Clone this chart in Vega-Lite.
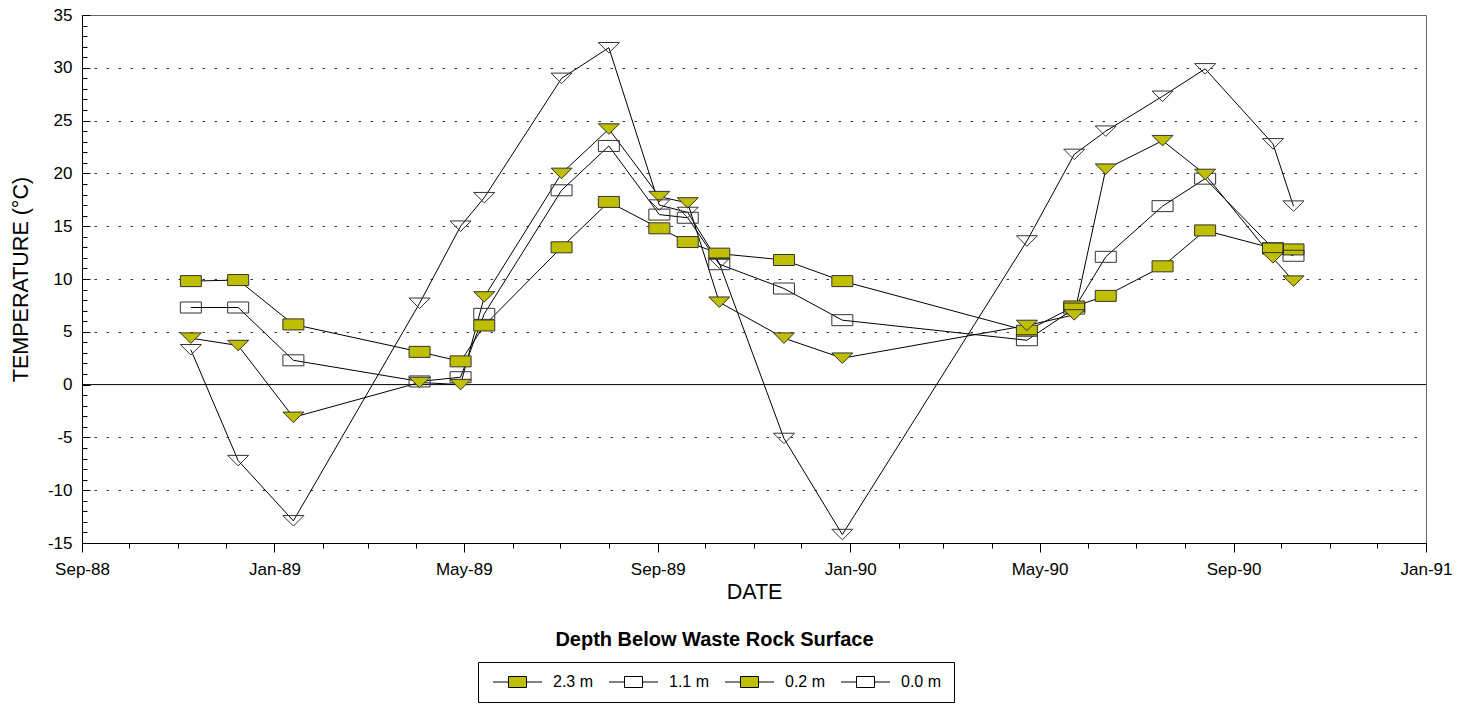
{
  "$schema": "https://vega.github.io/schema/vega-lite/v6.json",
  "width": 1344,
  "height": 528,
  "autosize": {"type": "none"},
  "padding": {"left": 82, "top": 15, "right": 40, "bottom": 163},
  "background": "white",
  "config": {
    "font": "Liberation Sans",
    "view": {"stroke": "#666", "strokeWidth": 1},
    "axis": {"labelColor": "black", "titleColor": "black", "domainColor": "black", "tickColor": "black", "labelFont": "Liberation Sans", "titleFont": "Liberation Sans", "titleFontWeight": "normal", "domainWidth": 1, "tickWidth": 1}
  },
  "datasets": {
    "temps": [
      {"date": "1988-11-09", "depth": "2.3 m", "temp": 9.8},
      {"date": "1988-12-09", "depth": "2.3 m", "temp": 9.9},
      {"date": "1989-01-13", "depth": "2.3 m", "temp": 5.7},
      {"date": "1989-04-03", "depth": "2.3 m", "temp": 3.1},
      {"date": "1989-04-29", "depth": "2.3 m", "temp": 2.2},
      {"date": "1989-05-14", "depth": "2.3 m", "temp": 5.6},
      {"date": "1989-07-02", "depth": "2.3 m", "temp": 13.0},
      {"date": "1989-08-01", "depth": "2.3 m", "temp": 17.3},
      {"date": "1989-09-02", "depth": "2.3 m", "temp": 14.8},
      {"date": "1989-09-20", "depth": "2.3 m", "temp": 13.5},
      {"date": "1989-10-10", "depth": "2.3 m", "temp": 12.4},
      {"date": "1989-11-20", "depth": "2.3 m", "temp": 11.8},
      {"date": "1989-12-27", "depth": "2.3 m", "temp": 9.8},
      {"date": "1990-04-23", "depth": "2.3 m", "temp": 5.1},
      {"date": "1990-05-23", "depth": "2.3 m", "temp": 7.4},
      {"date": "1990-06-12", "depth": "2.3 m", "temp": 8.4},
      {"date": "1990-07-18", "depth": "2.3 m", "temp": 11.2},
      {"date": "1990-08-14", "depth": "2.3 m", "temp": 14.6},
      {"date": "1990-09-26", "depth": "2.3 m", "temp": 12.9},
      {"date": "1990-10-09", "depth": "2.3 m", "temp": 12.8},
      {"date": "1988-11-09", "depth": "1.1 m", "temp": 7.3},
      {"date": "1988-12-09", "depth": "1.1 m", "temp": 7.3},
      {"date": "1989-01-13", "depth": "1.1 m", "temp": 2.3},
      {"date": "1989-04-03", "depth": "1.1 m", "temp": 0.3},
      {"date": "1989-04-29", "depth": "1.1 m", "temp": 0.7},
      {"date": "1989-05-14", "depth": "1.1 m", "temp": 6.7},
      {"date": "1989-07-02", "depth": "1.1 m", "temp": 18.4},
      {"date": "1989-08-01", "depth": "1.1 m", "temp": 22.6},
      {"date": "1989-09-02", "depth": "1.1 m", "temp": 16.1},
      {"date": "1989-09-20", "depth": "1.1 m", "temp": 15.8},
      {"date": "1989-10-10", "depth": "1.1 m", "temp": 11.4},
      {"date": "1989-11-20", "depth": "1.1 m", "temp": 9.1},
      {"date": "1989-12-27", "depth": "1.1 m", "temp": 6.1},
      {"date": "1990-04-23", "depth": "1.1 m", "temp": 4.2},
      {"date": "1990-05-23", "depth": "1.1 m", "temp": 7.2},
      {"date": "1990-06-12", "depth": "1.1 m", "temp": 12.1},
      {"date": "1990-07-18", "depth": "1.1 m", "temp": 16.9},
      {"date": "1990-08-14", "depth": "1.1 m", "temp": 19.5},
      {"date": "1990-09-26", "depth": "1.1 m", "temp": 12.9},
      {"date": "1990-10-09", "depth": "1.1 m", "temp": 12.2},
      {"date": "1988-11-09", "depth": "0.2 m", "temp": 4.4},
      {"date": "1988-12-09", "depth": "0.2 m", "temp": 3.7},
      {"date": "1989-01-13", "depth": "0.2 m", "temp": -3.1},
      {"date": "1989-04-03", "depth": "0.2 m", "temp": 0.2},
      {"date": "1989-04-29", "depth": "0.2 m", "temp": 0.0},
      {"date": "1989-05-14", "depth": "0.2 m", "temp": 8.3},
      {"date": "1989-07-02", "depth": "0.2 m", "temp": 20.0},
      {"date": "1989-08-01", "depth": "0.2 m", "temp": 24.2},
      {"date": "1989-09-02", "depth": "0.2 m", "temp": 17.8},
      {"date": "1989-09-20", "depth": "0.2 m", "temp": 17.2},
      {"date": "1989-10-10", "depth": "0.2 m", "temp": 7.8},
      {"date": "1989-11-20", "depth": "0.2 m", "temp": 4.4},
      {"date": "1989-12-27", "depth": "0.2 m", "temp": 2.5},
      {"date": "1990-04-23", "depth": "0.2 m", "temp": 5.6},
      {"date": "1990-05-23", "depth": "0.2 m", "temp": 6.6},
      {"date": "1990-06-12", "depth": "0.2 m", "temp": 20.4},
      {"date": "1990-07-18", "depth": "0.2 m", "temp": 23.1},
      {"date": "1990-08-14", "depth": "0.2 m", "temp": 19.9},
      {"date": "1990-09-26", "depth": "0.2 m", "temp": 12.0},
      {"date": "1990-10-09", "depth": "0.2 m", "temp": 9.8},
      {"date": "1988-11-09", "depth": "0.0 m", "temp": 3.3},
      {"date": "1988-12-09", "depth": "0.0 m", "temp": -7.2},
      {"date": "1989-01-13", "depth": "0.0 m", "temp": -12.9},
      {"date": "1989-04-03", "depth": "0.0 m", "temp": 7.7},
      {"date": "1989-04-29", "depth": "0.0 m", "temp": 15.0},
      {"date": "1989-05-14", "depth": "0.0 m", "temp": 17.7},
      {"date": "1989-07-02", "depth": "0.0 m", "temp": 29.0},
      {"date": "1989-08-01", "depth": "0.0 m", "temp": 31.9},
      {"date": "1989-09-02", "depth": "0.0 m", "temp": 17.0},
      {"date": "1989-09-20", "depth": "0.0 m", "temp": 16.3},
      {"date": "1989-10-10", "depth": "0.0 m", "temp": 11.5},
      {"date": "1989-11-20", "depth": "0.0 m", "temp": -5.1},
      {"date": "1989-12-27", "depth": "0.0 m", "temp": -14.2},
      {"date": "1990-04-23", "depth": "0.0 m", "temp": 13.6},
      {"date": "1990-05-23", "depth": "0.0 m", "temp": 21.8},
      {"date": "1990-06-12", "depth": "0.0 m", "temp": 24.0},
      {"date": "1990-07-18", "depth": "0.0 m", "temp": 27.3},
      {"date": "1990-08-14", "depth": "0.0 m", "temp": 29.9},
      {"date": "1990-09-26", "depth": "0.0 m", "temp": 22.8},
      {"date": "1990-10-09", "depth": "0.0 m", "temp": 16.9}
    ],
    "zero": [{"t": 0}]
  },
  "layer": [
    {
      "data": {"name": "zero"},
      "mark": {"type": "rule", "color": "black", "strokeWidth": 1},
      "encoding": {
        "y": {"field": "t", "type": "quantitative", "scale": {"domain": [-15, 35], "nice": false, "zero": false}}
      }
    },
    {
      "data": {"name": "temps"},
      "mark": {"type": "line", "color": "black", "strokeWidth": 1},
      "encoding": {
        "x": {
          "field": "date", "type": "temporal",
          "scale": {"type": "utc", "nice": false, "domain": [{"year": 1988, "month": 9, "date": 1, "utc": true}, {"year": 1991, "month": 1, "date": 1, "utc": true}]},
          "axis": {
            "orient": "bottom",
            "tickCount": 200,
            "values": [
              {"year": 1988, "month": 9, "date": 1, "utc": true},
              {"year": 1988, "month": 10, "date": 1, "utc": true},
              {"year": 1988, "month": 11, "date": 1, "utc": true},
              {"year": 1988, "month": 12, "date": 1, "utc": true},
              {"year": 1989, "month": 1, "date": 1, "utc": true},
              {"year": 1989, "month": 2, "date": 1, "utc": true},
              {"year": 1989, "month": 3, "date": 1, "utc": true},
              {"year": 1989, "month": 4, "date": 1, "utc": true},
              {"year": 1989, "month": 5, "date": 1, "utc": true},
              {"year": 1989, "month": 6, "date": 1, "utc": true},
              {"year": 1989, "month": 7, "date": 1, "utc": true},
              {"year": 1989, "month": 8, "date": 1, "utc": true},
              {"year": 1989, "month": 9, "date": 1, "utc": true},
              {"year": 1989, "month": 10, "date": 1, "utc": true},
              {"year": 1989, "month": 11, "date": 1, "utc": true},
              {"year": 1989, "month": 12, "date": 1, "utc": true},
              {"year": 1990, "month": 1, "date": 1, "utc": true},
              {"year": 1990, "month": 2, "date": 1, "utc": true},
              {"year": 1990, "month": 3, "date": 1, "utc": true},
              {"year": 1990, "month": 4, "date": 1, "utc": true},
              {"year": 1990, "month": 5, "date": 1, "utc": true},
              {"year": 1990, "month": 6, "date": 1, "utc": true},
              {"year": 1990, "month": 7, "date": 1, "utc": true},
              {"year": 1990, "month": 8, "date": 1, "utc": true},
              {"year": 1990, "month": 9, "date": 1, "utc": true},
              {"year": 1990, "month": 10, "date": 1, "utc": true},
              {"year": 1990, "month": 11, "date": 1, "utc": true},
              {"year": 1990, "month": 12, "date": 1, "utc": true},
              {"year": 1991, "month": 1, "date": 1, "utc": true}
            ],
            "labelExpr": "utcmonth(datum.value) % 4 == 0 ? utcFormat(datum.value, '%b-%y') : ''",
            "tickSize": {"condition": {"test": "utcmonth(datum.value) % 4 == 0", "value": 9}, "value": 5},
            "labelPadding": 9,
            "labelFontSize": 17,
            "labelOverlap": false,
            "labelFlush": false,
            "grid": false,
            "title": "DATE",
            "titleFontSize": 21.5,
            "titlePadding": 4
          }
        },
        "y": {
          "field": "temp", "type": "quantitative",
          "scale": {"domain": [-15, 35], "nice": false, "zero": false},
          "axis": {
            "tickCount": 200,
            "values": [-15,-14,-13,-12,-11,-10,-9,-8,-7,-6,-5,-4,-3,-2,-1,0,1,2,3,4,5,6,7,8,9,10,11,12,13,14,15,16,17,18,19,20,21,22,23,24,25,26,27,28,29,30,31,32,33,34,35],
            "labelExpr": "datum.value % 5 == 0 ? toString(datum.value) : ''",
            "tickSize": {"condition": {"test": "datum.value % 5 == 0", "value": -8}, "value": -5},
            "labelPadding": 18,
            "labelFontSize": 17,
            "labelOverlap": false,
            "labelFlush": false,
            "grid": true,
            "gridDash": [2.5, 9.5],
            "gridColor": "#333",
            "gridWidth": 1,
            "gridOpacity": {"condition": {"test": "datum.value % 5 == 0 && datum.value > -15 && datum.value < 35 && datum.value != 0", "value": 1}, "value": 0},
            "title": "TEMPERATURE (°C)",
            "titleFontSize": 21.5,
            "titlePadding": 15
          }
        },
        "detail": {"field": "depth"}
      }
    },
    {
      "data": {"name": "temps"},
      "mark": {"type": "point", "filled": true, "size": 441, "stroke": "#333", "strokeWidth": 1, "opacity": 1},
      "encoding": {
        "x": {
          "field": "date", "type": "temporal",
          "axis": {
            "orient": "bottom", "domain": false, "ticks": false, "labels": false, "grid": false,
            "title": "Depth Below Waste Rock Surface", "titleFontWeight": "bold", "titleFontSize": 20,
            "titlePadding": 86, "titleX": 632
          }
        },
        "y": {"field": "temp", "type": "quantitative"},
        "shape": {
          "field": "depth", "type": "nominal",
          "scale": {"range": ["M-1,-0.5H1L0,0.5Z", "M-1,-0.5H1L0,0.5Z", "M-1,-0.524H1V0.524H-1Z", "M-1,-0.524H1V0.524H-1Z"]},
          "legend": null
        },
        "fill": {
          "field": "depth", "type": "nominal",
          "scale": {"domain": ["2.3 m", "1.1 m", "0.2 m", "0.0 m"], "range": ["#BFBF00", "transparent", "#BFBF00", "transparent"]},
          "legend": {
            "title": null, "orient": "none", "legendX": 396, "legendY": 647, "direction": "horizontal",
            "strokeColor": "black", "padding": 12,
            "labelFontSize": 16, "labelColor": "black", "labelOffset": 47, "columnPadding": 12,
            "symbolSize": 100, "symbolStrokeColor": "black", "symbolStrokeWidth": 1,
            "symbolType": "M-1,0H2.1M5.7,0H8.8M2.1,-1.1H5.7V1.1H2.1Z",
            "encode": {"symbols": {
              "size": {"value": 100},
              "stroke": {"value": "black"},
              "strokeWidth": {"value": 1}
            }}
          }
        }
      }
    }
  ],
  "resolve": {"axis": {"x": "independent"}}
}
